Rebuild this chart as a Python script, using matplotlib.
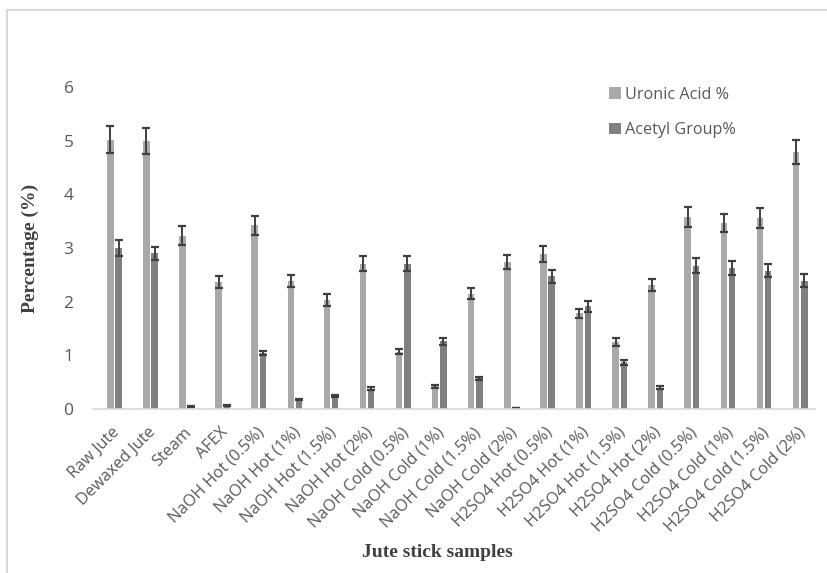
import numpy as np
from matplotlib import pyplot as plt
from matplotlib.lines import Line2D

muestras = ["Raw Jute", "Dewaxed Jute", "Steam", "AFEX",
            "NaOH Hot (0.5%)", "NaOH Hot (1%)", "NaOH Hot (1.5%)", "NaOH Hot (2%)",
            "NaOH Cold (0.5%)", "NaOH Cold (1%)", "NaOH Cold (1.5%)", "NaOH Cold (2%)",
            "H2SO4 Hot (0.5%)", "H2SO4 Hot (1%)", "H2SO4 Hot (1.5%)", "H2SO4 Hot (2%)",
            "H2SO4 Cold (0.5%)", "H2SO4 Cold (1%)", "H2SO4 Cold (1.5%)", "H2SO4 Cold (2%)"]

# Acido uronico
uronico = [5.02, 4.99, 3.23, 2.36, 3.42, 2.38, 2.03, 2.71, 1.07, 0.42, 2.15, 2.74,
           2.88, 1.78, 1.25, 2.31, 3.58, 3.46, 3.56, 4.79]
errUronico = [0.25, 0.24, 0.18, 0.11, 0.18, 0.11, 0.11, 0.14, 0.05, 0.03, 0.10, 0.13,
              0.15, 0.09, 0.07, 0.11, 0.19, 0.17, 0.18, 0.23]

# Grupo acetilo
acetilo = [3.00, 2.90, 0.05, 0.07, 1.05, 0.18, 0.25, 0.38, 2.71, 1.26, 0.57, 0.01,
           2.47, 1.91, 0.87, 0.40, 2.67, 2.62, 2.58, 2.39]
errAcetilo = [0.15, 0.12, 0.01, 0.01, 0.04, 0.01, 0.02, 0.03, 0.14, 0.07, 0.03, 0.0,
              0.12, 0.10, 0.05, 0.02, 0.14, 0.13, 0.12, 0.12]

claro = "#A9A9A9"
oscuro = "#808080"
texto = "#595959"

fig = plt.figure(figsize=(8.28, 5.73), dpi=100)
ax = fig.add_axes([0.1123, 0.2862, 0.8717, 0.5620])

x = np.arange(len(muestras))
ancho = 0.18
ebKw = dict(ecolor="#3F3F3F", elinewidth=1.4, capsize=3.2, capthick=1.6)

ax.bar(x - 0.02, uronico, ancho, color=claro, yerr=errUronico, error_kw=ebKw,
       label="Uronic Acid %")
ax.bar(x + 0.21, acetilo, ancho, color=oscuro, yerr=errAcetilo, error_kw=ebKw,
       label="Acetyl Group%")

ax.set_xlim(-0.5, len(muestras) - 0.5)
ax.set_ylim(0, 6)
ax.set_yticks(range(7))

for lado in ["top", "right", "left"]:
    ax.spines[lado].set_visible(False)
ax.spines["bottom"].set_color("#D9D9D9")
ax.spines["bottom"].set_linewidth(1.2)

ax.set_xticks(x + 0.02)
ax.set_xticklabels(muestras, rotation=45, ha="right", rotation_mode="anchor",
                   fontfamily="Open Sans", fontsize=11.7, color=texto)
ax.tick_params(axis="x", length=0, pad=11)
ax.tick_params(axis="y", length=0, pad=14, labelsize=12.5, labelcolor=texto)
for t in ax.get_yticklabels():
    t.set_fontfamily("Open Sans")

ax.set_ylabel("Percentage (%)", fontfamily="Liberation Serif", fontweight="bold",
              fontsize=14, color="#404040", labelpad=18)
fig.text(0.528, 0.036, "Jute stick samples", ha="center", va="center",
         fontfamily="Liberation Serif", fontweight="bold", fontsize=14, color="#404040")

leg = ax.legend(loc="upper left", bbox_to_anchor=(0.695, 1.046), frameon=False,
                prop={"family": "Open Sans", "size": 11.7}, handlelength=0.7,
                handleheight=0.7, handletextpad=0.3, labelspacing=1.2)
for t in leg.get_texts():
    t.set_color(texto)

# marco exterior
fig.add_artist(Line2D([7 / 828, 7 / 828], [0, 1 - 10 / 573], color="#D9D9D9", lw=1.5,
                      transform=fig.transFigure))
fig.add_artist(Line2D([7 / 828, 1], [1 - 10 / 573, 1 - 10 / 573], color="#D9D9D9", lw=1.5,
                      transform=fig.transFigure))

fig.savefig("out.png", dpi=100)
